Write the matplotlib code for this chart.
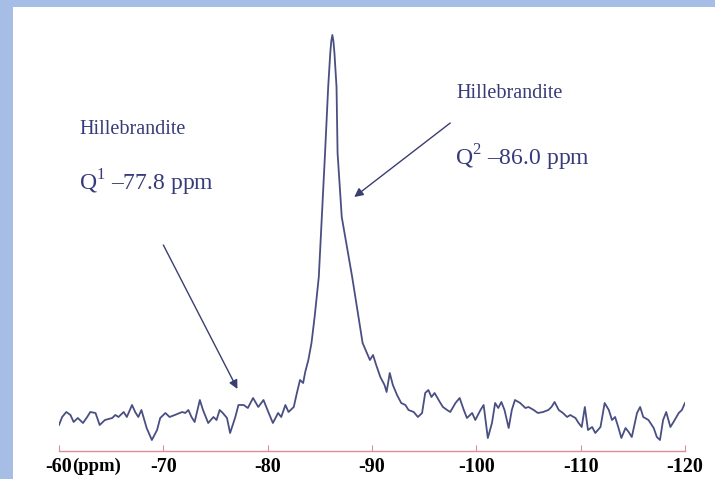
import matplotlib
matplotlib.use("Agg")
import matplotlib.pyplot as plt
from matplotlib.patches import Rectangle

# 29Si MAS NMR trace: chemical shift (ppm) and signal height
shift = [-60.0, -60.3, -60.7, -61.1, -61.4, -61.8, -62.3, -62.7, -63.0, -63.5,
         -63.9, -64.4, -65.1, -65.4, -65.7, -66.2, -66.5, -67.0, -67.3, -67.6,
         -67.9, -68.4, -68.9, -69.4, -69.7, -70.2, -70.6, -71.1, -71.8, -72.1,
         -72.4, -72.7, -73.0, -73.5, -73.8, -74.3, -74.8, -75.1, -75.4, -75.7,
         -76.1, -76.4, -76.9, -77.2, -77.7, -78.1, -78.6, -79.1, -79.6, -80.1,
         -80.5, -81.0, -81.3, -81.7, -82.0, -82.5, -82.8, -83.1, -83.4, -83.6,
         -83.9, -84.2, -84.5, -84.9, -85.2, -85.5, -85.8, -86.0, -86.1, -86.2,
         -86.3, -86.4, -86.6, -86.7, -87.1, -88.1, -88.7, -89.1, -89.8, -90.1,
         -90.4, -90.8, -91.2, -91.4, -91.7, -92.0, -92.4, -92.5, -92.8, -93.2,
         -93.5, -94.0, -94.4, -94.8, -95.1, -95.4, -95.7, -96.0, -96.5, -96.8,
         -97.2, -97.5, -98.0, -98.4, -98.8, -99.1, -99.6, -99.9, -100.4, -100.7,
         -101.1, -101.5, -101.8, -102.1, -102.4, -102.7, -103.1, -103.4, -103.7, -104.2,
         -104.7, -105.0, -105.5, -105.9, -106.4, -106.9, -107.2, -107.5, -107.9, -108.3,
         -108.7, -109.0, -109.5, -109.8, -110.1, -110.4, -110.7, -111.1, -111.4, -111.9,
         -112.3, -112.7, -113.0, -113.3, -113.6, -113.9, -114.3, -114.6, -114.9, -115.4,
         -115.7, -116.0, -116.5, -117.0, -117.3, -117.6, -117.9, -118.2, -118.6, -118.9,
         -119.4, -119.7, -120.0]
signal = [26, 34, 39, 36, 29, 33, 28, 34, 39, 38,
          26, 31, 33, 36, 34, 39, 34, 46, 39, 34,
          41, 23, 11, 21, 33, 38, 34, 36, 39, 38,
          41, 34, 29, 51, 41, 28, 34, 31, 41, 38,
          33, 18, 34, 46, 46, 43, 53, 44, 51, 38,
          28, 38, 34, 46, 39, 44, 58, 71, 68, 79,
          91, 108, 134, 174, 236, 298, 364, 398, 410, 416,
          410, 398, 364, 298, 234, 174, 134, 108, 91, 96,
          86, 74, 66, 59, 78, 66, 56, 54, 48, 46,
          41, 39, 34, 38, 58, 61, 54, 58, 49, 44,
          41, 39, 48, 53, 41, 33, 38, 31, 41, 46,
          13, 28, 48, 43, 49, 41, 23, 41, 51, 48,
          43, 44, 41, 38, 39, 41, 44, 49, 41, 38,
          34, 36, 33, 28, 24, 44, 21, 24, 18, 24,
          48, 41, 31, 34, 24, 13, 23, 19, 14, 38,
          44, 34, 31, 23, 14, 11, 31, 39, 24, 29,
          38, 41, 48]

ticks = [-60, -70, -80, -90, -100, -110, -120]
tick_labels = ["-60", "-70", "-80", "-90", "-100", "-110", "-120"]

ink = "#363b78"
axis_red = "#dc8e98"

plt.rcParams["font.family"] = ["Liberation Serif", "DejaVu Serif"]
plt.rcParams["mathtext.fontset"] = "custom"
plt.rcParams["mathtext.rm"] = "Liberation Serif"

fig = plt.figure(figsize=(7.15, 4.79), dpi=100)
fig.patch.set_facecolor("#a6bee6")
# white slide panel
fig.add_artist(Rectangle((13 / 715, 0), 1, 1 - 7 / 479, transform=fig.transFigure,
                         facecolor="white", edgecolor="none", zorder=0))

ax = fig.add_axes([59 / 715, 28 / 479, 626 / 715, 430 / 479])
ax.patch.set_alpha(0)
ax.plot(shift, signal, color="#4a4f82", lw=1.3, solid_joinstyle="round")

ax.set_xlim(-60, -120)
ax.set_ylim(0, 430)
for s in ["top", "left", "right"]:
    ax.spines[s].set_visible(False)
ax.spines["bottom"].set_color(axis_red)
ax.spines["bottom"].set_linewidth(1.0)
ax.set_yticks([])
ax.set_xticks(ticks)
ax.set_xticklabels(tick_labels, fontsize=14.5, fontweight="bold")
ax.tick_params(axis="x", direction="in", length=4, color=axis_red, pad=4)

ax.annotate("(ppm)", xy=(-61.3, 0), xycoords="data", xytext=(0, -4.5),
            textcoords="offset points", ha="left", va="top",
            fontsize=13.5, fontweight="bold", annotation_clip=False)

# peak labels
ax.text(-62.0, 321, "Hillebrandite", color=ink, fontsize=14.5, va="center", ha="left")
ax.text(-61.9, 268, r"Q$^{\mathrm{1}}$ –77.8 ppm", color=ink, fontsize=17,
        va="center", ha="left")
ax.text(-98.1, 358, "Hillebrandite", color=ink, fontsize=14.5, va="center", ha="left")
ax.text(-98.0, 293, r"Q$^{\mathrm{2}}$ –86.0 ppm", color=ink, fontsize=17,
        va="center", ha="left")

arrow = dict(arrowstyle="-|>", color="#3a3e70", lw=1.0, mutation_scale=13,
             shrinkA=0, shrinkB=0)
ax.annotate("", xy=(-77.1, 62), xytext=(-70.0, 206), arrowprops=arrow)
ax.annotate("", xy=(-88.3, 254), xytext=(-97.5, 328), arrowprops=arrow)

fig.savefig("out.png", dpi=100, facecolor=fig.get_facecolor())
